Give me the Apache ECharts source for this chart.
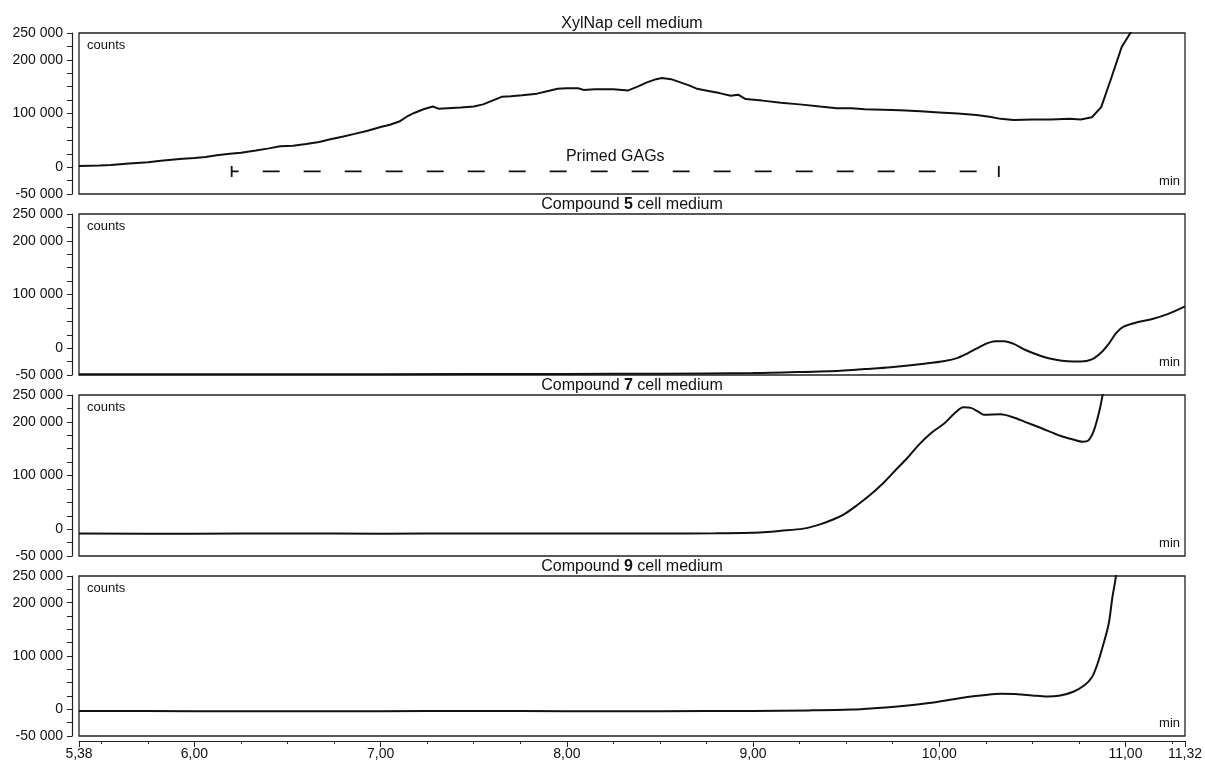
<!DOCTYPE html>
<html><head><meta charset="utf-8">
<script src="https://cdn.jsdelivr.net/npm/echarts@6/dist/echarts.min.js"></script>
<style>html,body{margin:0;padding:0;background:#fff}#c{width:1205px;height:762px}</style>
</head><body><div id="c"></div><script>
// ---------- data ----------
const panelTitles = ['XylNap cell medium', 'Compound {b|5} cell medium', 'Compound {b|7} cell medium', 'Compound {b|9} cell medium'];
const xylNap = [[5.38,2000],[5.49,3000],[5.55,4000],[5.65,7000],[5.75,9000],[5.82,12000],[5.92,15000],[6.00,17000],[6.06,19000],[6.12,22000],[6.19,25000],[6.25,27000],[6.33,31000],[6.40,35000],[6.46,39000],[6.53,40000],[6.60,43000],[6.67,47000],[6.73,52000],[6.80,57000],[6.86,62000],[6.93,68000],[7.00,75000],[7.05,79000],[7.10,85000],[7.14,94000],[7.18,101000],[7.23,108000],[7.28,113000],[7.31,109000],[7.36,110000],[7.43,111000],[7.50,113000],[7.55,117000],[7.60,124000],[7.65,131000],[7.70,132000],[7.76,134000],[7.84,137000],[7.90,142000],[7.95,146000],[8.00,147000],[8.06,147000],[8.09,144000],[8.15,145000],[8.25,145000],[8.33,143000],[8.38,150000],[8.43,158000],[8.48,164000],[8.51,166000],[8.56,164000],[8.61,158000],[8.66,152000],[8.70,146000],[8.76,142000],[8.82,138000],[8.88,133000],[8.92,135000],[8.96,127000],[9.05,124000],[9.15,120000],[9.25,117000],[9.36,113000],[9.45,110000],[9.53,110000],[9.60,108000],[9.70,107000],[9.79,106000],[9.90,104000],[10.00,102000],[10.10,100000],[10.20,97000],[10.27,94000],[10.33,90000],[10.40,88000],[10.50,89000],[10.60,89000],[10.70,90000],[10.76,89000],[10.82,93000],[10.87,112000],[10.92,162000],[10.98,224000],[11.03,252000],[11.10,330000]];
const compound5 = [[5.38,-48500],[6.0,-48500],[7.0,-48500],[8.0,-48000],[8.5,-47500],[9.0,-46500],[9.25,-44500],[9.47,-42000],[9.6,-39000],[9.74,-35500],[9.92,-29000],[10.03,-24000],[10.10,-18000],[10.15,-10000],[10.20,-1000],[10.25,8000],[10.30,13000],[10.35,13000],[10.40,8000],[10.46,-3000],[10.55,-15000],[10.62,-21000],[10.69,-24500],[10.76,-25000],[10.82,-21000],[10.87,-8000],[10.91,8000],[10.95,28000],[10.99,40000],[11.05,47000],[11.14,54000],[11.23,64000],[11.32,78000]];
const compound7 = [[5.38,-8000],[6.0,-8500],[6.5,-8000],[7.0,-8500],[7.5,-8000],[8.0,-8000],[8.5,-8000],[8.8,-7500],[9.04,-6000],[9.15,-3000],[9.27,1000],[9.36,9000],[9.43,18000],[9.49,28000],[9.56,45000],[9.63,64000],[9.70,86000],[9.76,108000],[9.83,133000],[9.89,157000],[9.96,180000],[10.03,198000],[10.08,215000],[10.13,227000],[10.17,226000],[10.21,219000],[10.24,213000],[10.33,214000],[10.40,208000],[10.46,200000],[10.55,188000],[10.65,174000],[10.72,167000],[10.77,163000],[10.80,165000],[10.83,183000],[10.86,220000],[10.88,255000],[10.92,340000]];
const compound9 = [[5.38,-3000],[6.0,-3500],[7.0,-3500],[7.5,-3000],[8.0,-3500],[8.5,-3500],[9.0,-3000],[9.3,-2000],[9.53,-500],[9.65,2000],[9.79,6000],[9.97,13000],[10.15,23000],[10.25,27000],[10.33,29000],[10.42,28500],[10.50,26000],[10.58,24000],[10.65,26000],[10.72,33000],[10.78,45000],[10.82,60000],[10.85,85000],[10.88,120000],[10.91,160000],[10.93,210000],[10.95,252000],[10.97,330000]];
const primedGAGs = [[6.2,-8000],[10.32,-8000]];
const primedLabel = 'Primed GAGs';
const xMajorTicks = [5.38,6,7,8,9,10,11,11.32];
const xMinorTicks = [5.5,5.75,6,6.25,6.5,6.75,7,7.25,7.5,7.75,8,8.25,8.5,8.75,9,9.25,9.5,9.75,10,10.25,10.5,10.75,11,11.25];
const yLabelValues = [-50000,0,100000,200000,250000];

// ---------- layout ----------
const FONT = '"Liberation Sans", Arial, Helvetica, sans-serif';
const tops = [33, 214, 395, 576];
const heights = [161, 161, 161, 160];
const L = 79, R = 20;
const series4 = [xylNap, compound5, compound7, compound9];

const fmtY = v => {
  if (!yLabelValues.includes(v)) return '';
  const s = String(Math.abs(v)).replace(/\B(?=(\d{3})+(?!\d))/g, ' ');
  return (v < 0 ? '-' : '') + s;
};
const fmtX = v => v.toFixed(2).replace('.', ',');

const grids = tops.map((t, i) => ({left: L, right: R, top: t, height: heights[i], show: true, borderColor: '#222', borderWidth: 1.3, backgroundColor: 'transparent'}));
const yAxes = tops.map((t, i) => ({
  gridIndex: i, type: 'value', min: -50000, max: 250000, interval: 25000, offset: 7,
  axisLine: {show: true, onZero: false, lineStyle: {color: '#222', width: 1.2}},
  axisTick: {show: true, length: 5, lineStyle: {color: '#222', width: 1}},
  splitLine: {show: false},
  axisLabel: {formatter: fmtY, color: '#111', fontSize: 14, fontFamily: FONT, margin: 9}
}));
const xAxes = [0,1,2].map(i => ({gridIndex: i, type: 'value', min: 5.38, max: 11.32, show: false}));
xAxes.push({
  gridIndex: 3, type: 'value', min: 5.38, max: 11.32, position: 'bottom', offset: 5,
  axisLine: {show: true, onZero: false, lineStyle: {color: '#222', width: 1.2}},
  axisTick: {show: true, length: 6, customValues: xMajorTicks, lineStyle: {color: '#222'}},
  axisLabel: {customValues: xMajorTicks, formatter: fmtX, color: '#111', fontSize: 14, fontFamily: FONT, margin: 6},
  splitLine: {show: false}
});
xAxes.push({
  gridIndex: 3, type: 'value', min: 5.38, max: 11.32, position: 'bottom', offset: 5,
  axisLine: {show: false, onZero: false},
  axisTick: {show: true, length: 3, customValues: xMinorTicks, lineStyle: {color: '#222'}},
  axisLabel: {show: false}, splitLine: {show: false}
});

const series = series4.map((d, i) => ({
  type: 'line', xAxisIndex: i, yAxisIndex: i, data: d, showSymbol: false, symbol: 'none',
  smooth: i === 0 ? false : 0.3, clip: true,
  lineStyle: {color: '#111', width: 2}
}));
series.push({
  type: 'line', xAxisIndex: 0, yAxisIndex: 0, data: primedGAGs,
  symbol: 'rect', symbolSize: [1.8, 11], showSymbol: true, itemStyle: {color: '#111'},
  lineStyle: {color: '#111', width: 1.8, type: [17, 24], dashOffset: 10}
});

const graphic = [];
tops.forEach((t, i) => {
  graphic.push({type: 'text', x: 632, y: t - 9, style: {text: panelTitles[i], textAlign: 'center', textVerticalAlign: 'middle', fill: '#111', fontSize: 16, fontFamily: FONT, rich: {b: {fontWeight: 'bold', fontSize: 16, fontFamily: FONT, fill: '#111'}}}});
  graphic.push({type: 'text', x: 87, y: t + 12, style: {text: 'counts', textAlign: 'left', textVerticalAlign: 'middle', fill: '#111', fontSize: 13, fontFamily: FONT}});
  graphic.push({type: 'text', x: 1180, y: t + heights[i] - 13, style: {text: 'min', textAlign: 'right', textVerticalAlign: 'middle', fill: '#111', fontSize: 13, fontFamily: FONT}});
});

const chart = echarts.init(document.getElementById('c'), null, {renderer: 'canvas'});
chart.setOption({animation: false, backgroundColor: '#fff', grid: grids, xAxis: xAxes, yAxis: yAxes, series});
const mid = chart.convertToPixel({gridIndex: 0}, [(primedGAGs[0][0] + primedGAGs[1][0]) / 2, primedGAGs[0][1]]);
graphic.push({type: 'text', x: mid[0], y: mid[1] - 15, style: {text: primedLabel, textAlign: 'center', textVerticalAlign: 'middle', fill: '#111', fontSize: 16, fontFamily: FONT}});
chart.setOption({graphic});
</script></body></html>
